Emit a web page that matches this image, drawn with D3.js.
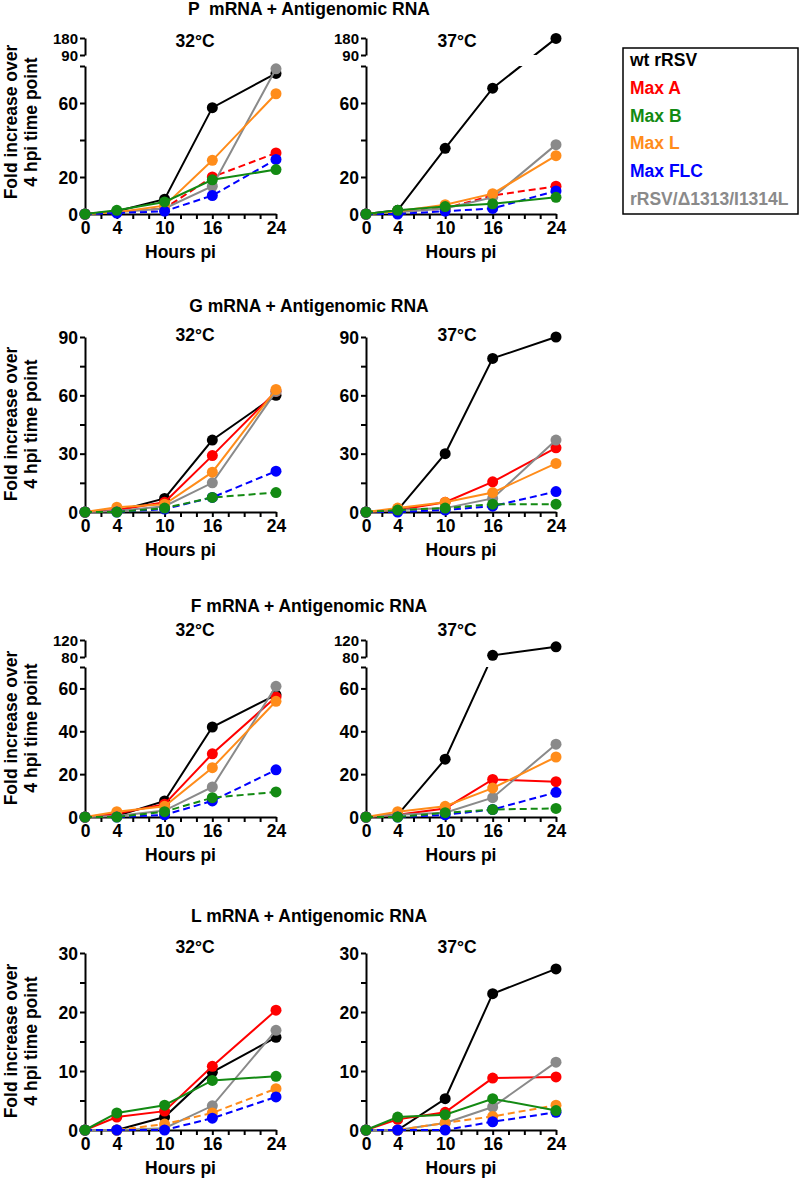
<!DOCTYPE html>
<html><head><meta charset="utf-8">
<script src="https://cdn.jsdelivr.net/npm/d3@7"></script>
<style>
body{margin:0;background:#fff}
text{font-family:"Liberation Sans",Arial,sans-serif;font-weight:bold}
</style>
</head><body>
<script>
// ---------- DATA ----------
const hours = [0, 4, 10, 16, 24];
const xTickValues = [0, 2, 4, 6, 8, 10, 12, 14, 16, 18, 20, 22, 24];
const xTickLabels = [0, 4, 10, 16, 24];
const seriesNames = ["wt rRSV", "Max A", "Max B", "Max L", "Max FLC", "rRSV/\u03941313/I1314L"];

// P mRNA + Antigenomic RNA (series order as seriesNames)
const P_32 = [
  [0, 1.5, 8, 57.5, 76],
  [0, 1, 3, 20, 33],
  [0, 2, 6.5, 18.5, 24],
  [0, 1, 4.5, 29, 65],
  [0, 0.5, 1.5, 10, 29.5],
  [0, 1, 3, 15, 78.5]
];
const P_37 = [
  [0, 2, 35.5, 68, 178],
  [0, 1, 3, 10, 15],
  [0, 2, 4, 5.5, 9],
  [0, 1.5, 5, 11, 31.5],
  [0, 0, 1.5, 3, 12.5],
  [0, 1, 3, 9, 37.5]
];
const P_dashed = ["Max A", "Max FLC"];
const P_lowerTicks = [0, 20, 40, 60, 80];
const P_lowerLabels = [0, 20, 60];
const P_upperTicks = [90, 180];

// G mRNA + Antigenomic RNA
const G_32 = [
  [0, 0.5, 7, 37, 60],
  [0, 1, 5, 29, 62],
  [0, 0, 2, 7.5, 10],
  [0, 2.5, 4, 20.5, 63],
  [0, 0, 1.5, 7.5, 21],
  [0, 0.5, 3, 15, 62]
];
const G_37 = [
  [0, 1, 30, 79, 90],
  [0, 1, 5, 15.5, 33],
  [0, 1, 2, 4, 4],
  [0, 2, 5, 10, 25],
  [0, 0, 1, 3, 10.5],
  [0, 1, 2, 7, 37]
];
const G_dashed = ["Max B", "Max FLC"];
const G_lowerTicks = [0, 15, 30, 45, 60, 75, 90];
const G_lowerLabels = [0, 30, 60, 90];

// F mRNA + Antigenomic RNA
const F_32 = [
  [0, 0.5, 7.5, 42, 57],
  [0, 1.5, 6, 29.5, 56],
  [0, 0, 2.5, 9, 11.7],
  [0, 2.5, 5, 23, 54],
  [0, 0, 1, 7.5, 22],
  [0, 0.5, 3, 14, 61]
];
const F_37 = [
  [0, 1, 27, 84, 104],
  [0, 1, 4, 17.5, 16.5],
  [0, 0, 2, 3.5, 4],
  [0, 2.5, 5, 13.5, 28],
  [0, 0, 1, 3.5, 11.5],
  [0, 1, 2, 9, 34]
];
const F_dashed = ["Max B", "Max FLC"];
const F_lowerTicks = [0, 20, 40, 60, 70];
const F_lowerLabels = [0, 20, 40, 60];
const F_upperTicks = [80, 120];

// L mRNA + Antigenomic RNA
const L_32 = [
  [0, 0, 2.2, 9.8, 15.7],
  [0, 2.2, 3.2, 10.8, 20.3],
  [0, 2.9, 4.2, 8.4, 9.1],
  [0, 0, 1.0, 2.9, 7.0],
  [0, 0, 0, 2.0, 5.6],
  [0, 0, 0.3, 4.1, 16.9]
];
const L_37 = [
  [0, 0, 5.3, 23.1, 27.3],
  [0, 1.8, 3.0, 8.8, 9.0],
  [0, 2.2, 2.6, 5.3, 3.3],
  [0, 0, 1.2, 2.3, 4.2],
  [0, 0, 0, 1.4, 3.0],
  [0, 0, 1.2, 3.9, 11.5]
];
const L_dashed = ["Max L", "Max FLC"];
const L_lowerTicks = [0, 5, 10, 15, 20, 25, 30];
const L_lowerLabels = [0, 10, 20, 30];

// ---------- STYLE / LAYOUT ----------
const colors = ["#000000", "#ff0000", "#138a13", "#ff8c1a", "#0000ff", "#8a8a8a"];
const drawOrder = [0, 1, 5, 3, 4, 2];
const FS = 17.5;
const FS_BREAK = 15;

const rows = [
  {title: "P  mRNA + Antigenomic RNA", titleY: 15, tempY: 47, zeroY: 214, topY: 66,
   lowerMax: 80, lowerTicks: P_lowerTicks, lowerLabels: P_lowerLabels,
   upper: P_upperTicks, upperY: [55, 38], labelY: 122, d32: P_32, d37: P_37, dashed: P_dashed},
  {title: "G mRNA + Antigenomic RNA", titleY: 312, tempY: 341, zeroY: 512, topY: 337,
   lowerMax: 90, lowerTicks: G_lowerTicks, lowerLabels: G_lowerLabels,
   upper: null, labelY: 424, d32: G_32, d37: G_37, dashed: G_dashed},
  {title: "F mRNA + Antigenomic RNA", titleY: 612, tempY: 636, zeroY: 817, topY: 667,
   lowerMax: 70, lowerTicks: F_lowerTicks, lowerLabels: F_lowerLabels,
   upper: F_upperTicks, upperY: [657, 640], labelY: 728, d32: F_32, d37: F_37, dashed: F_dashed},
  {title: "L mRNA + Antigenomic RNA", titleY: 922, tempY: 953, zeroY: 1130, topY: 953,
   lowerMax: 30, lowerTicks: L_lowerTicks, lowerLabels: L_lowerLabels,
   upper: null, labelY: 1041, d32: L_32, d37: L_37, dashed: L_dashed}
];
const panels = [
  {temp: "32\u00b0C", x0: 85, x1: 276, tempX: 195, key: "d32"},
  {temp: "37\u00b0C", x0: 366, x1: 556, tempX: 457, key: "d37"}
];

const svg = d3.select("body").append("svg").attr("width", 800).attr("height", 1178);
const defs = svg.append("defs");

function styleAxis(g, fs) {
  g.selectAll("path.domain").attr("stroke", "#000").attr("stroke-width", 2);
  g.selectAll(".tick line").attr("stroke", "#000").attr("stroke-width", 2);
  g.selectAll(".tick text").attr("fill", "#000").style("font-size", (fs || FS) + "px")
    .style("font-family", '"Liberation Sans",Arial,sans-serif').style("font-weight", "bold");
}

rows.forEach((row, ri) => {
  svg.append("text").attr("x", 309).attr("y", row.titleY).attr("text-anchor", "middle")
    .style("font-size", FS + "px").style("white-space", "pre").text(row.title);

  // y axis title
  const yl = svg.append("text").attr("transform", `translate(17,${row.labelY}) rotate(-90)`)
    .attr("text-anchor", "middle").style("font-size", FS + "px");
  yl.append("tspan").attr("x", 0).attr("y", 0).text("Fold increase over");
  yl.append("tspan").attr("x", 0).attr("y", 20).text("4 hpi time point");

  panels.forEach((p, pi) => {
    const x = d3.scaleLinear().domain([0, 24]).range([p.x0, p.x1]);
    const yDomain = row.upper ? [0, row.lowerMax, row.upper[0], row.upper[1]] : [0, row.lowerMax];
    const yRange = row.upper ? [row.zeroY, row.topY, row.upperY[0], row.upperY[1]] : [row.zeroY, row.topY];
    const y = d3.scaleLinear().domain(yDomain).range(yRange);

    svg.append("text").attr("x", p.tempX).attr("y", row.tempY).attr("text-anchor", "middle")
      .style("font-size", FS + "px").text(p.temp);

    // x axis
    const gx = svg.append("g").attr("transform", `translate(0,${row.zeroY})`)
      .call(d3.axisBottom(x).tickValues(xTickValues).tickSize(5).tickSizeOuter(0).tickPadding(3)
        .tickFormat(d => xTickLabels.includes(d) ? d : ""));
    styleAxis(gx);
    svg.append("text").attr("x", (p.x0 + p.x1) / 2).attr("y", row.zeroY + 44)
      .attr("text-anchor", "middle").style("font-size", FS + "px").text("Hours pi");

    // y axis (lower segment)
    const yLow = d3.scaleLinear().domain([0, row.lowerMax]).range([row.zeroY, row.topY]);
    const gy = svg.append("g").attr("transform", `translate(${p.x0},0)`)
      .call(d3.axisLeft(yLow).tickValues(row.lowerTicks).tickSize(5).tickSizeOuter(0).tickPadding(2)
        .tickFormat(d => row.lowerLabels.includes(d) ? d : ""));
    styleAxis(gy);
    gy.selectAll(".tick text").attr("dy", "0.36em");
    if (row.upper) {
      const yUp = d3.scaleLinear().domain(row.upper).range(row.upperY);
      const gu = svg.append("g").attr("transform", `translate(${p.x0},0)`)
        .call(d3.axisLeft(yUp).tickValues(row.upper).tickSize(5).tickSizeOuter(0).tickPadding(2));
      styleAxis(gu, FS_BREAK);
      gu.selectAll(".tick text").attr("dy", "0.36em");
    }

    // clip for broken axis
    const clipId = `clip${ri}_${pi}`;
    const cp = defs.append("clipPath").attr("id", clipId);
    if (row.upper) {
      cp.append("rect").attr("x", p.x0 - 20).attr("y", row.upperY[1] - 30)
        .attr("width", p.x1 - p.x0 + 40).attr("height", row.upperY[0] - row.upperY[1] + 30);
      cp.append("rect").attr("x", p.x0 - 20).attr("y", row.topY)
        .attr("width", p.x1 - p.x0 + 40).attr("height", row.zeroY - row.topY + 30);
    } else {
      cp.append("rect").attr("x", p.x0 - 20).attr("y", row.topY - 30)
        .attr("width", p.x1 - p.x0 + 40).attr("height", row.zeroY - row.topY + 60);
    }

    const data = row[p.key];
    const line = d3.line().x((v, i) => x(hours[i])).y(v => y(v));
    drawOrder.forEach(si => {
      const vals = data[si];
      const dashed = row.dashed.includes(seriesNames[si]);
      svg.append("path").attr("d", line(vals)).attr("fill", "none")
        .attr("stroke", colors[si]).attr("stroke-width", 2)
        .attr("stroke-dasharray", dashed ? "7,4" : null)
        .attr("clip-path", `url(#${clipId})`);
      svg.append("g").selectAll("circle").data(vals).join("circle")
        .attr("cx", (v, i) => x(hours[i])).attr("cy", v => y(v)).attr("r", 5.5)
        .attr("fill", colors[si]);
    });
  });
});

// legend
const lg = svg.append("g");
lg.append("rect").attr("x", 623).attr("y", 48).attr("width", 175).attr("height", 166)
  .attr("fill", "none").attr("stroke", "#000").attr("stroke-width", 1.5);
seriesNames.forEach((n, i) => {
  lg.append("text").attr("x", 630).attr("y", 66 + i * 27.8).attr("fill", colors[i])
    .style("font-size", FS + "px").text(n);
});
</script>
</body></html>
